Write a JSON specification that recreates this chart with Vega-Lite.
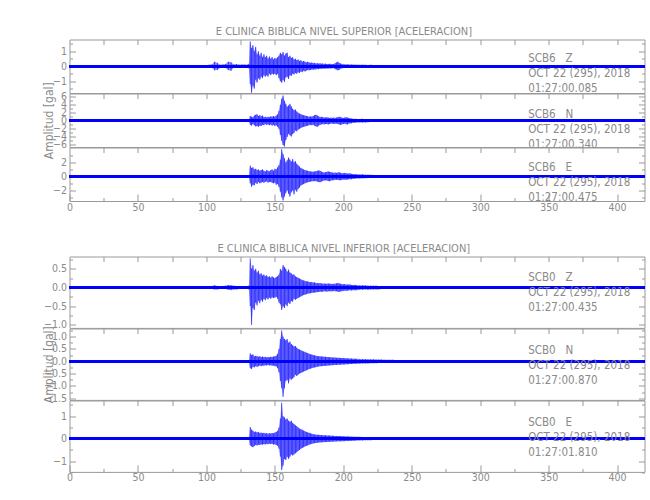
{
"$schema": "https://vega.github.io/schema/vega-lite/v6.json",
"padding": {"left": 41.5, "top": 25.5, "right": 5, "bottom": 5},
"datasets": {"w": [
{"t":0,"a1":0.06,"b1":-0.05,"a2":0.15,"b2":-0.14,"a3":0.12,"b3":-0.11,"a4":0.02,"b4":-0.02,"a5":0.03,"b5":-0.03,"a6":0.03,"b6":-0.03},
{"t":10,"a1":0.05,"b1":-0.06,"a2":0.14,"b2":-0.15,"a3":0.11,"b3":-0.12,"a4":0.02,"b4":-0.03,"a5":0.03,"b5":-0.03,"a6":0.03,"b6":-0.02},
{"t":20,"a1":0.07,"b1":-0.06,"a2":0.15,"b2":-0.13,"a3":0.12,"b3":-0.12,"a4":0.03,"b4":-0.02,"a5":0.03,"b5":-0.04,"a6":0.03,"b6":-0.03},
{"t":30,"a1":0.06,"b1":-0.07,"a2":0.13,"b2":-0.15,"a3":0.13,"b3":-0.11,"a4":0.02,"b4":-0.02,"a5":0.04,"b5":-0.03,"a6":0.02,"b6":-0.03},
{"t":40,"a1":0.06,"b1":-0.06,"a2":0.15,"b2":-0.15,"a3":0.11,"b3":-0.12,"a4":0.02,"b4":-0.03,"a5":0.03,"b5":-0.03,"a6":0.03,"b6":-0.03},
{"t":50,"a1":0.07,"b1":-0.06,"a2":0.14,"b2":-0.14,"a3":0.12,"b3":-0.13,"a4":0.03,"b4":-0.02,"a5":0.03,"b5":-0.03,"a6":0.03,"b6":-0.02},
{"t":60,"a1":0.06,"b1":-0.06,"a2":0.15,"b2":-0.14,"a3":0.12,"b3":-0.12,"a4":0.02,"b4":-0.02,"a5":0.03,"b5":-0.04,"a6":0.03,"b6":-0.03},
{"t":70,"a1":0.05,"b1":-0.06,"a2":0.14,"b2":-0.15,"a3":0.11,"b3":-0.11,"a4":0.02,"b4":-0.02,"a5":0.03,"b5":-0.03,"a6":0.02,"b6":-0.03},
{"t":80,"a1":0.06,"b1":-0.07,"a2":0.15,"b2":-0.15,"a3":0.12,"b3":-0.12,"a4":0.03,"b4":-0.03,"a5":0.04,"b5":-0.03,"a6":0.03,"b6":-0.03},
{"t":90,"a1":0.07,"b1":-0.06,"a2":0.14,"b2":-0.14,"a3":0.12,"b3":-0.12,"a4":0.02,"b4":-0.03,"a5":0.03,"b5":-0.03,"a6":0.03,"b6":-0.03},
{"t":100,"a1":0.07,"b1":-0.07,"a2":0.15,"b2":-0.15,"a3":0.12,"b3":-0.12,"a4":0.03,"b4":-0.03,"a5":0.03,"b5":-0.03,"a6":0.04,"b6":-0.04},
{"t":102,"a1":0.1,"b1":-0.09,"a2":0.14,"b2":-0.15,"a3":0.12,"b3":-0.13,"a4":0.03,"b4":-0.03,"a5":0.03,"b5":-0.04,"a6":0.04,"b6":-0.03},
{"t":104,"a1":0.12,"b1":-0.1,"a2":0.15,"b2":-0.14,"a3":0.13,"b3":-0.12,"a4":0.04,"b4":-0.04,"a5":0.04,"b5":-0.03,"a6":0.04,"b6":-0.04},
{"t":106,"a1":0.3,"b1":-0.28,"a2":0.16,"b2":-0.15,"a3":0.14,"b3":-0.13,"a4":0.06,"b4":-0.05,"a5":0.04,"b5":-0.04,"a6":0.05,"b6":-0.05},
{"t":108,"a1":0.22,"b1":-0.25,"a2":0.15,"b2":-0.16,"a3":0.13,"b3":-0.14,"a4":0.04,"b4":-0.05,"a5":0.04,"b5":-0.04,"a6":0.04,"b6":-0.05},
{"t":110,"a1":0.1,"b1":-0.12,"a2":0.15,"b2":-0.15,"a3":0.12,"b3":-0.12,"a4":0.03,"b4":-0.04,"a5":0.03,"b5":-0.04,"a6":0.04,"b6":-0.04},
{"t":112,"a1":0.12,"b1":-0.1,"a2":0.16,"b2":-0.15,"a3":0.13,"b3":-0.13,"a4":0.04,"b4":-0.04,"a5":0.04,"b5":-0.03,"a6":0.04,"b6":-0.04},
{"t":114,"a1":0.15,"b1":-0.13,"a2":0.15,"b2":-0.16,"a3":0.14,"b3":-0.13,"a4":0.05,"b4":-0.04,"a5":0.04,"b5":-0.04,"a6":0.05,"b6":-0.04},
{"t":116,"a1":0.3,"b1":-0.26,"a2":0.16,"b2":-0.16,"a3":0.14,"b3":-0.15,"a4":0.07,"b4":-0.06,"a5":0.04,"b5":-0.05,"a6":0.06,"b6":-0.05},
{"t":118,"a1":0.26,"b1":-0.3,"a2":0.17,"b2":-0.16,"a3":0.15,"b3":-0.14,"a4":0.06,"b4":-0.07,"a5":0.05,"b5":-0.04,"a6":0.05,"b6":-0.06},
{"t":120,"a1":0.12,"b1":-0.1,"a2":0.16,"b2":-0.17,"a3":0.14,"b3":-0.15,"a4":0.05,"b4":-0.05,"a5":0.04,"b5":-0.04,"a6":0.05,"b6":-0.05},
{"t":122,"a1":0.14,"b1":-0.12,"a2":0.16,"b2":-0.16,"a3":0.15,"b3":-0.14,"a4":0.04,"b4":-0.05,"a5":0.04,"b5":-0.04,"a6":0.04,"b6":-0.05},
{"t":124,"a1":0.1,"b1":-0.11,"a2":0.15,"b2":-0.16,"a3":0.14,"b3":-0.14,"a4":0.04,"b4":-0.04,"a5":0.04,"b5":-0.04,"a6":0.04,"b6":-0.04},
{"t":126,"a1":0.12,"b1":-0.1,"a2":0.16,"b2":-0.15,"a3":0.13,"b3":-0.14,"a4":0.03,"b4":-0.04,"a5":0.03,"b5":-0.04,"a6":0.04,"b6":-0.04},
{"t":128,"a1":0.11,"b1":-0.12,"a2":0.15,"b2":-0.16,"a3":0.14,"b3":-0.13,"a4":0.04,"b4":-0.04,"a5":0.04,"b5":-0.03,"a6":0.04,"b6":-0.04},
{"t":130,"a1":0.1,"b1":-0.1,"a2":0.15,"b2":-0.15,"a3":0.13,"b3":-0.12,"a4":0.04,"b4":-0.04,"a5":0.03,"b5":-0.03,"a6":0.03,"b6":-0.04},
{"t":131,"a1":0.15,"b1":-0.14,"a2":0.2,"b2":-0.18,"a3":0.15,"b3":-0.14,"a4":0.05,"b4":-0.05,"a5":0.04,"b5":-0.04,"a6":0.04,"b6":-0.04},
{"t":132,"a1":1.65,"b1":-1.2,"a2":1.2,"b2":-1.0,"a3":1.55,"b3":-1.0,"a4":0.78,"b4":-0.5,"a5":0.32,"b5":-0.28,"a6":0.52,"b6":-0.3},
{"t":133,"a1":1.2,"b1":-1.78,"a2":1.0,"b2":-1.2,"a3":1.2,"b3":-1.5,"a4":0.5,"b4":-1.0,"a5":0.25,"b5":-0.32,"a6":0.4,"b6":-0.35},
{"t":134,"a1":1.4,"b1":-1.3,"a2":0.9,"b2":-0.8,"a3":1.3,"b3":-1.2,"a4":0.6,"b4":-0.55,"a5":0.28,"b5":-0.22,"a6":0.35,"b6":-0.38},
{"t":135,"a1":1.0,"b1":-1.5,"a2":1.3,"b2":-1.1,"a3":1.0,"b3":-1.3,"a4":0.45,"b4":-0.6,"a5":0.2,"b5":-0.25,"a6":0.3,"b6":-0.33},
{"t":136,"a1":1.3,"b1":-0.9,"a2":1.5,"b2":-1.4,"a3":1.1,"b3":-0.9,"a4":0.5,"b4":-0.4,"a5":0.22,"b5":-0.2,"a6":0.32,"b6":-0.28},
{"t":137,"a1":0.8,"b1":-1.1,"a2":1.6,"b2":-1.3,"a3":0.9,"b3":-1.1,"a4":0.4,"b4":-0.48,"a5":0.2,"b5":-0.22,"a6":0.28,"b6":-0.3},
{"t":138,"a1":1.0,"b1":-0.8,"a2":1.2,"b2":-1.5,"a3":1.0,"b3":-0.8,"a4":0.45,"b4":-0.35,"a5":0.18,"b5":-0.2,"a6":0.3,"b6":-0.27},
{"t":139,"a1":0.7,"b1":-0.9,"a2":1.4,"b2":-1.2,"a3":0.8,"b3":-1.0,"a4":0.35,"b4":-0.42,"a5":0.2,"b5":-0.17,"a6":0.25,"b6":-0.28},
{"t":140,"a1":0.9,"b1":-0.7,"a2":1.1,"b2":-1.3,"a3":0.9,"b3":-0.9,"a4":0.38,"b4":-0.33,"a5":0.17,"b5":-0.2,"a6":0.27,"b6":-0.25},
{"t":141,"a1":0.6,"b1":-0.8,"a2":1.3,"b2":-1.0,"a3":1.0,"b3":-0.8,"a4":0.32,"b4":-0.38,"a5":0.19,"b5":-0.17,"a6":0.24,"b6":-0.27},
{"t":142,"a1":0.8,"b1":-0.6,"a2":0.9,"b2":-1.1,"a3":0.8,"b3":-0.9,"a4":0.35,"b4":-0.3,"a5":0.16,"b5":-0.18,"a6":0.26,"b6":-0.24},
{"t":143,"a1":0.6,"b1":-0.7,"a2":1.0,"b2":-0.8,"a3":0.7,"b3":-0.8,"a4":0.3,"b4":-0.34,"a5":0.18,"b5":-0.16,"a6":0.23,"b6":-0.26},
{"t":144,"a1":0.7,"b1":-0.6,"a2":0.8,"b2":-1.0,"a3":0.9,"b3":-0.7,"a4":0.33,"b4":-0.28,"a5":0.15,"b5":-0.17,"a6":0.25,"b6":-0.23},
{"t":145,"a1":0.5,"b1":-0.7,"a2":1.0,"b2":-0.9,"a3":0.8,"b3":-0.9,"a4":0.28,"b4":-0.32,"a5":0.17,"b5":-0.15,"a6":0.22,"b6":-0.25},
{"t":146,"a1":0.65,"b1":-0.5,"a2":0.9,"b2":-1.1,"a3":0.7,"b3":-0.8,"a4":0.3,"b4":-0.27,"a5":0.16,"b5":-0.17,"a6":0.24,"b6":-0.22},
{"t":147,"a1":0.5,"b1":-0.6,"a2":1.1,"b2":-0.9,"a3":0.9,"b3":-0.8,"a4":0.26,"b4":-0.3,"a5":0.18,"b5":-0.16,"a6":0.23,"b6":-0.24},
{"t":148,"a1":0.6,"b1":-0.5,"a2":1.0,"b2":-1.2,"a3":1.0,"b3":-0.9,"a4":0.3,"b4":-0.26,"a5":0.17,"b5":-0.18,"a6":0.25,"b6":-0.23},
{"t":149,"a1":0.45,"b1":-0.55,"a2":1.2,"b2":-1.0,"a3":0.8,"b3":-1.0,"a4":0.27,"b4":-0.28,"a5":0.19,"b5":-0.17,"a6":0.24,"b6":-0.26},
{"t":150,"a1":0.55,"b1":-0.5,"a2":1.0,"b2":-1.3,"a3":1.1,"b3":-0.9,"a4":0.25,"b4":-0.27,"a5":0.2,"b5":-0.2,"a6":0.27,"b6":-0.25},
{"t":151,"a1":0.5,"b1":-0.6,"a2":1.3,"b2":-1.1,"a3":1.0,"b3":-1.2,"a4":0.28,"b4":-0.25,"a5":0.22,"b5":-0.2,"a6":0.3,"b6":-0.28},
{"t":152,"a1":0.6,"b1":-0.5,"a2":1.6,"b2":-1.5,"a3":1.3,"b3":-1.1,"a4":0.3,"b4":-0.3,"a5":0.3,"b5":-0.28,"a6":0.35,"b6":-0.32},
{"t":153,"a1":0.7,"b1":-0.8,"a2":2.5,"b2":-2.0,"a3":1.6,"b3":-1.5,"a4":0.35,"b4":-0.4,"a5":0.5,"b5":-0.45,"a6":0.5,"b6":-0.45},
{"t":154,"a1":0.9,"b1":-1.0,"a2":4.0,"b2":-3.5,"a3":2.4,"b3":-2.2,"a4":0.5,"b4":-0.45,"a5":0.9,"b5":-0.8,"a6":0.9,"b6":-0.8},
{"t":155,"a1":0.8,"b1":-1.1,"a2":5.5,"b2":-5.0,"a3":3.9,"b3":-3.0,"a4":0.45,"b4":-0.6,"a5":1.25,"b5":-1.1,"a6":1.6,"b6":-1.4},
{"t":156,"a1":0.95,"b1":-0.9,"a2":6.3,"b2":-6.0,"a3":3.2,"b3":-3.45,"a4":0.6,"b4":-0.5,"a5":1.0,"b5":-1.45,"a6":1.0,"b6":-1.2},
{"t":157,"a1":0.7,"b1":-1.05,"a2":5.0,"b2":-6.4,"a3":2.6,"b3":-2.9,"a4":0.55,"b4":-0.55,"a5":0.9,"b5":-1.1,"a6":0.95,"b6":-0.9},
{"t":158,"a1":0.85,"b1":-0.75,"a2":4.2,"b2":-4.8,"a3":2.0,"b3":-2.4,"a4":0.5,"b4":-0.45,"a5":0.85,"b5":-0.8,"a6":0.85,"b6":-0.95},
{"t":159,"a1":0.9,"b1":-0.7,"a2":3.5,"b2":-4.0,"a3":2.3,"b3":-2.0,"a4":0.42,"b4":-0.5,"a5":0.9,"b5":-0.75,"a6":0.9,"b6":-0.8},
{"t":160,"a1":0.6,"b1":-0.85,"a2":3.8,"b2":-3.2,"a3":2.7,"b3":-2.5,"a4":0.48,"b4":-0.4,"a5":0.75,"b5":-0.9,"a6":0.8,"b6":-0.9},
{"t":161,"a1":0.7,"b1":-0.6,"a2":4.2,"b2":-3.6,"a3":2.4,"b3":-2.9,"a4":0.4,"b4":-0.44,"a5":0.8,"b5":-0.7,"a6":0.75,"b6":-0.8},
{"t":162,"a1":0.55,"b1":-0.65,"a2":3.6,"b2":-3.9,"a3":2.1,"b3":-2.3,"a4":0.38,"b4":-0.36,"a5":0.7,"b5":-0.75,"a6":0.8,"b6":-0.7},
{"t":163,"a1":0.6,"b1":-0.5,"a2":3.0,"b2":-3.3,"a3":2.5,"b3":-2.0,"a4":0.34,"b4":-0.38,"a5":0.65,"b5":-0.7,"a6":0.7,"b6":-0.75},
{"t":164,"a1":0.45,"b1":-0.55,"a2":2.6,"b2":-3.0,"a3":2.0,"b3":-2.6,"a4":0.35,"b4":-0.3,"a5":0.6,"b5":-0.65,"a6":0.65,"b6":-0.7},
{"t":165,"a1":0.5,"b1":-0.45,"a2":2.8,"b2":-2.4,"a3":2.2,"b3":-1.9,"a4":0.3,"b4":-0.33,"a5":0.62,"b5":-0.55,"a6":0.6,"b6":-0.65},
{"t":166,"a1":0.4,"b1":-0.5,"a2":2.3,"b2":-2.6,"a3":1.8,"b3":-2.2,"a4":0.28,"b4":-0.3,"a5":0.55,"b5":-0.6,"a6":0.55,"b6":-0.6},
{"t":167,"a1":0.45,"b1":-0.4,"a2":2.0,"b2":-2.2,"a3":1.6,"b3":-1.8,"a4":0.26,"b4":-0.28,"a5":0.5,"b5":-0.55,"a6":0.5,"b6":-0.55},
{"t":168,"a1":0.35,"b1":-0.45,"a2":1.8,"b2":-2.0,"a3":1.4,"b3":-1.6,"a4":0.24,"b4":-0.26,"a5":0.48,"b5":-0.5,"a6":0.45,"b6":-0.5},
{"t":169,"a1":0.4,"b1":-0.35,"a2":1.6,"b2":-1.8,"a3":1.2,"b3":-1.3,"a4":0.22,"b4":-0.24,"a5":0.45,"b5":-0.48,"a6":0.42,"b6":-0.45},
{"t":170,"a1":0.3,"b1":-0.4,"a2":1.5,"b2":-1.6,"a3":1.1,"b3":-1.2,"a4":0.2,"b4":-0.22,"a5":0.42,"b5":-0.45,"a6":0.4,"b6":-0.42},
{"t":171,"a1":0.35,"b1":-0.3,"a2":1.4,"b2":-1.5,"a3":1.0,"b3":-1.1,"a4":0.19,"b4":-0.2,"a5":0.4,"b5":-0.42,"a6":0.36,"b6":-0.38},
{"t":172,"a1":0.3,"b1":-0.35,"a2":1.3,"b2":-1.4,"a3":0.9,"b3":-1.0,"a4":0.18,"b4":-0.19,"a5":0.38,"b5":-0.4,"a6":0.33,"b6":-0.35},
{"t":173,"a1":0.25,"b1":-0.3,"a2":1.2,"b2":-1.3,"a3":0.85,"b3":-0.9,"a4":0.16,"b4":-0.18,"a5":0.35,"b5":-0.37,"a6":0.3,"b6":-0.32},
{"t":174,"a1":0.3,"b1":-0.25,"a2":1.1,"b2":-1.2,"a3":0.8,"b3":-0.85,"a4":0.17,"b4":-0.16,"a5":0.33,"b5":-0.35,"a6":0.28,"b6":-0.3},
{"t":175,"a1":0.25,"b1":-0.28,"a2":1.0,"b2":-1.1,"a3":0.75,"b3":-0.8,"a4":0.15,"b4":-0.16,"a5":0.3,"b5":-0.32,"a6":0.26,"b6":-0.27},
{"t":176,"a1":0.22,"b1":-0.25,"a2":1.1,"b2":-1.0,"a3":0.7,"b3":-0.75,"a4":0.14,"b4":-0.15,"a5":0.28,"b5":-0.3,"a6":0.24,"b6":-0.25},
{"t":177,"a1":0.25,"b1":-0.22,"a2":1.0,"b2":-1.1,"a3":0.7,"b3":-0.7,"a4":0.15,"b4":-0.14,"a5":0.27,"b5":-0.28,"a6":0.22,"b6":-0.23},
{"t":178,"a1":0.2,"b1":-0.24,"a2":1.2,"b2":-1.0,"a3":0.65,"b3":-0.7,"a4":0.13,"b4":-0.14,"a5":0.25,"b5":-0.26,"a6":0.2,"b6":-0.21},
{"t":179,"a1":0.22,"b1":-0.2,"a2":1.4,"b2":-1.2,"a3":0.7,"b3":-0.65,"a4":0.14,"b4":-0.13,"a5":0.24,"b5":-0.25,"a6":0.19,"b6":-0.2},
{"t":180,"a1":0.18,"b1":-0.22,"a2":1.5,"b2":-1.4,"a3":0.75,"b3":-0.7,"a4":0.12,"b4":-0.13,"a5":0.22,"b5":-0.24,"a6":0.18,"b6":-0.19},
{"t":181,"a1":0.2,"b1":-0.18,"a2":1.3,"b2":-1.5,"a3":0.8,"b3":-0.75,"a4":0.12,"b4":-0.12,"a5":0.21,"b5":-0.22,"a6":0.17,"b6":-0.18},
{"t":182,"a1":0.17,"b1":-0.2,"a2":1.1,"b2":-1.2,"a3":0.85,"b3":-0.8,"a4":0.11,"b4":-0.12,"a5":0.2,"b5":-0.21,"a6":0.17,"b6":-0.17},
{"t":183,"a1":0.2,"b1":-0.17,"a2":0.9,"b2":-1.0,"a3":0.8,"b3":-0.85,"a4":0.12,"b4":-0.11,"a5":0.2,"b5":-0.2,"a6":0.16,"b6":-0.17},
{"t":184,"a1":0.16,"b1":-0.18,"a2":1.0,"b2":-0.9,"a3":0.7,"b3":-0.75,"a4":0.11,"b4":-0.11,"a5":0.19,"b5":-0.2,"a6":0.16,"b6":-0.16},
{"t":185,"a1":0.18,"b1":-0.16,"a2":0.9,"b2":-0.8,"a3":0.6,"b3":-0.65,"a4":0.1,"b4":-0.11,"a5":0.19,"b5":-0.19,"a6":0.15,"b6":-0.16},
{"t":186,"a1":0.15,"b1":-0.17,"a2":0.8,"b2":-0.9,"a3":0.55,"b3":-0.6,"a4":0.11,"b4":-0.1,"a5":0.18,"b5":-0.19,"a6":0.15,"b6":-0.15},
{"t":187,"a1":0.17,"b1":-0.15,"a2":0.8,"b2":-0.8,"a3":0.6,"b3":-0.55,"a4":0.1,"b4":-0.1,"a5":0.18,"b5":-0.18,"a6":0.15,"b6":-0.15},
{"t":188,"a1":0.15,"b1":-0.16,"a2":0.9,"b2":-0.8,"a3":0.65,"b3":-0.6,"a4":0.1,"b4":-0.11,"a5":0.17,"b5":-0.18,"a6":0.14,"b6":-0.15},
{"t":189,"a1":0.14,"b1":-0.15,"a2":0.8,"b2":-0.9,"a3":0.7,"b3":-0.65,"a4":0.11,"b4":-0.1,"a5":0.17,"b5":-0.17,"a6":0.14,"b6":-0.14},
{"t":190,"a1":0.16,"b1":-0.14,"a2":0.7,"b2":-0.8,"a3":0.65,"b3":-0.7,"a4":0.1,"b4":-0.1,"a5":0.16,"b5":-0.17,"a6":0.14,"b6":-0.14},
{"t":191,"a1":0.14,"b1":-0.15,"a2":0.8,"b2":-0.7,"a3":0.6,"b3":-0.6,"a4":0.1,"b4":-0.1,"a5":0.16,"b5":-0.16,"a6":0.13,"b6":-0.14},
{"t":192,"a1":0.13,"b1":-0.14,"a2":0.7,"b2":-0.7,"a3":0.55,"b3":-0.55,"a4":0.09,"b4":-0.1,"a5":0.15,"b5":-0.16,"a6":0.13,"b6":-0.13},
{"t":193,"a1":0.15,"b1":-0.13,"a2":0.8,"b2":-0.8,"a3":0.5,"b3":-0.55,"a4":0.1,"b4":-0.09,"a5":0.15,"b5":-0.15,"a6":0.13,"b6":-0.13},
{"t":194,"a1":0.2,"b1":-0.2,"a2":0.7,"b2":-0.75,"a3":0.55,"b3":-0.5,"a4":0.1,"b4":-0.1,"a5":0.15,"b5":-0.15,"a6":0.12,"b6":-0.13},
{"t":195,"a1":0.25,"b1":-0.22,"a2":0.8,"b2":-0.7,"a3":0.5,"b3":-0.5,"a4":0.11,"b4":-0.1,"a5":0.14,"b5":-0.15,"a6":0.12,"b6":-0.12},
{"t":196,"a1":0.3,"b1":-0.28,"a2":0.9,"b2":-0.8,"a3":0.55,"b3":-0.5,"a4":0.12,"b4":-0.11,"a5":0.14,"b5":-0.14,"a6":0.12,"b6":-0.12},
{"t":197,"a1":0.22,"b1":-0.25,"a2":1.0,"b2":-0.9,"a3":0.6,"b3":-0.55,"a4":0.11,"b4":-0.12,"a5":0.14,"b5":-0.14,"a6":0.12,"b6":-0.12},
{"t":198,"a1":0.18,"b1":-0.16,"a2":0.9,"b2":-1.0,"a3":0.5,"b3":-0.55,"a4":0.1,"b4":-0.1,"a5":0.13,"b5":-0.14,"a6":0.11,"b6":-0.12},
{"t":199,"a1":0.15,"b1":-0.14,"a2":0.8,"b2":-0.9,"a3":0.45,"b3":-0.5,"a4":0.09,"b4":-0.1,"a5":0.13,"b5":-0.13,"a6":0.11,"b6":-0.11},
{"t":200,"a1":0.12,"b1":-0.13,"a2":0.7,"b2":-0.8,"a3":0.45,"b3":-0.45,"a4":0.09,"b4":-0.09,"a5":0.13,"b5":-0.13,"a6":0.11,"b6":-0.11},
{"t":201,"a1":0.12,"b1":-0.11,"a2":0.8,"b2":-0.7,"a3":0.5,"b3":-0.45,"a4":0.09,"b4":-0.08,"a5":0.12,"b5":-0.13,"a6":0.1,"b6":-0.11},
{"t":202,"a1":0.11,"b1":-0.12,"a2":0.9,"b2":-0.85,"a3":0.45,"b3":-0.5,"a4":0.08,"b4":-0.09,"a5":0.12,"b5":-0.12,"a6":0.1,"b6":-0.1},
{"t":203,"a1":0.12,"b1":-0.11,"a2":0.8,"b2":-0.9,"a3":0.4,"b3":-0.45,"a4":0.08,"b4":-0.08,"a5":0.12,"b5":-0.12,"a6":0.1,"b6":-0.1},
{"t":204,"a1":0.11,"b1":-0.11,"a2":0.7,"b2":-0.7,"a3":0.4,"b3":-0.4,"a4":0.08,"b4":-0.08,"a5":0.11,"b5":-0.12,"a6":0.1,"b6":-0.1},
{"t":205,"a1":0.1,"b1":-0.11,"a2":0.6,"b2":-0.65,"a3":0.45,"b3":-0.4,"a4":0.08,"b4":-0.07,"a5":0.11,"b5":-0.11,"a6":0.09,"b6":-0.1},
{"t":206,"a1":0.11,"b1":-0.1,"a2":0.55,"b2":-0.6,"a3":0.35,"b3":-0.4,"a4":0.07,"b4":-0.08,"a5":0.11,"b5":-0.11,"a6":0.09,"b6":-0.09},
{"t":207,"a1":0.1,"b1":-0.1,"a2":0.5,"b2":-0.5,"a3":0.35,"b3":-0.35,"a4":0.07,"b4":-0.07,"a5":0.1,"b5":-0.11,"a6":0.09,"b6":-0.09},
{"t":208,"a1":0.1,"b1":-0.1,"a2":0.45,"b2":-0.5,"a3":0.3,"b3":-0.35,"a4":0.07,"b4":-0.07,"a5":0.1,"b5":-0.1,"a6":0.08,"b6":-0.09},
{"t":209,"a1":0.09,"b1":-0.1,"a2":0.5,"b2":-0.45,"a3":0.32,"b3":-0.3,"a4":0.07,"b4":-0.07,"a5":0.1,"b5":-0.1,"a6":0.08,"b6":-0.08},
{"t":210,"a1":0.1,"b1":-0.09,"a2":0.4,"b2":-0.45,"a3":0.3,"b3":-0.3,"a4":0.06,"b4":-0.07,"a5":0.1,"b5":-0.1,"a6":0.08,"b6":-0.08},
{"t":212,"a1":0.09,"b1":-0.1,"a2":0.45,"b2":-0.4,"a3":0.28,"b3":-0.3,"a4":0.06,"b4":-0.06,"a5":0.09,"b5":-0.1,"a6":0.08,"b6":-0.08},
{"t":214,"a1":0.1,"b1":-0.09,"a2":0.5,"b2":-0.45,"a3":0.3,"b3":-0.28,"a4":0.06,"b4":-0.06,"a5":0.09,"b5":-0.09,"a6":0.07,"b6":-0.08},
{"t":216,"a1":0.09,"b1":-0.09,"a2":0.35,"b2":-0.4,"a3":0.25,"b3":-0.27,"a4":0.06,"b4":-0.05,"a5":0.09,"b5":-0.09,"a6":0.07,"b6":-0.07},
{"t":218,"a1":0.08,"b1":-0.09,"a2":0.3,"b2":-0.35,"a3":0.24,"b3":-0.25,"a4":0.05,"b4":-0.06,"a5":0.08,"b5":-0.09,"a6":0.07,"b6":-0.07},
{"t":220,"a1":0.09,"b1":-0.08,"a2":0.35,"b2":-0.3,"a3":0.22,"b3":-0.24,"a4":0.05,"b4":-0.05,"a5":0.08,"b5":-0.08,"a6":0.06,"b6":-0.07},
{"t":222,"a1":0.08,"b1":-0.08,"a2":0.3,"b2":-0.3,"a3":0.2,"b3":-0.22,"a4":0.05,"b4":-0.05,"a5":0.08,"b5":-0.08,"a6":0.06,"b6":-0.06},
{"t":224,"a1":0.08,"b1":-0.08,"a2":0.28,"b2":-0.3,"a3":0.2,"b3":-0.2,"a4":0.05,"b4":-0.05,"a5":0.07,"b5":-0.08,"a6":0.06,"b6":-0.06},
{"t":226,"a1":0.07,"b1":-0.08,"a2":0.25,"b2":-0.28,"a3":0.19,"b3":-0.2,"a4":0.04,"b4":-0.05,"a5":0.07,"b5":-0.07,"a6":0.06,"b6":-0.06},
{"t":228,"a1":0.08,"b1":-0.07,"a2":0.27,"b2":-0.25,"a3":0.18,"b3":-0.19,"a4":0.04,"b4":-0.04,"a5":0.07,"b5":-0.07,"a6":0.05,"b6":-0.06},
{"t":230,"a1":0.07,"b1":-0.07,"a2":0.25,"b2":-0.25,"a3":0.18,"b3":-0.18,"a4":0.04,"b4":-0.04,"a5":0.06,"b5":-0.07,"a6":0.05,"b6":-0.05},
{"t":232,"a1":0.07,"b1":-0.07,"a2":0.22,"b2":-0.24,"a3":0.17,"b3":-0.18,"a4":0.04,"b4":-0.04,"a5":0.06,"b5":-0.06,"a6":0.05,"b6":-0.05},
{"t":234,"a1":0.07,"b1":-0.07,"a2":0.22,"b2":-0.22,"a3":0.17,"b3":-0.17,"a4":0.04,"b4":-0.04,"a5":0.06,"b5":-0.06,"a6":0.05,"b6":-0.05},
{"t":236,"a1":0.06,"b1":-0.07,"a2":0.2,"b2":-0.22,"a3":0.16,"b3":-0.17,"a4":0.04,"b4":-0.04,"a5":0.06,"b5":-0.06,"a6":0.05,"b6":-0.05},
{"t":238,"a1":0.07,"b1":-0.06,"a2":0.2,"b2":-0.2,"a3":0.16,"b3":-0.16,"a4":0.04,"b4":-0.03,"a5":0.05,"b5":-0.06,"a6":0.04,"b6":-0.05},
{"t":240,"a1":0.06,"b1":-0.06,"a2":0.2,"b2":-0.2,"a3":0.15,"b3":-0.16,"a4":0.03,"b4":-0.04,"a5":0.05,"b5":-0.05,"a6":0.04,"b6":-0.04},
{"t":242,"a1":0.06,"b1":-0.06,"a2":0.18,"b2":-0.2,"a3":0.15,"b3":-0.15,"a4":0.03,"b4":-0.03,"a5":0.05,"b5":-0.05,"a6":0.04,"b6":-0.04},
{"t":244,"a1":0.06,"b1":-0.06,"a2":0.18,"b2":-0.18,"a3":0.14,"b3":-0.15,"a4":0.03,"b4":-0.03,"a5":0.05,"b5":-0.05,"a6":0.04,"b6":-0.04},
{"t":246,"a1":0.06,"b1":-0.06,"a2":0.17,"b2":-0.18,"a3":0.14,"b3":-0.14,"a4":0.03,"b4":-0.03,"a5":0.04,"b5":-0.05,"a6":0.04,"b6":-0.04},
{"t":248,"a1":0.06,"b1":-0.05,"a2":0.17,"b2":-0.17,"a3":0.13,"b3":-0.14,"a4":0.03,"b4":-0.03,"a5":0.04,"b5":-0.04,"a6":0.04,"b6":-0.04},
{"t":250,"a1":0.05,"b1":-0.06,"a2":0.16,"b2":-0.17,"a3":0.13,"b3":-0.13,"a4":0.03,"b4":-0.03,"a5":0.04,"b5":-0.04,"a6":0.04,"b6":-0.04},
{"t":260,"a1":0.06,"b1":-0.06,"a2":0.16,"b2":-0.16,"a3":0.13,"b3":-0.13,"a4":0.03,"b4":-0.03,"a5":0.04,"b5":-0.04,"a6":0.04,"b6":-0.04},
{"t":270,"a1":0.07,"b1":-0.06,"a2":0.15,"b2":-0.16,"a3":0.12,"b3":-0.13,"a4":0.03,"b4":-0.03,"a5":0.04,"b5":-0.04,"a6":0.04,"b6":-0.03},
{"t":280,"a1":0.06,"b1":-0.07,"a2":0.16,"b2":-0.15,"a3":0.13,"b3":-0.12,"a4":0.03,"b4":-0.03,"a5":0.04,"b5":-0.04,"a6":0.03,"b6":-0.04},
{"t":290,"a1":0.06,"b1":-0.06,"a2":0.15,"b2":-0.15,"a3":0.12,"b3":-0.12,"a4":0.03,"b4":-0.03,"a5":0.04,"b5":-0.03,"a6":0.04,"b6":-0.04},
{"t":300,"a1":0.07,"b1":-0.07,"a2":0.16,"b2":-0.15,"a3":0.13,"b3":-0.13,"a4":0.03,"b4":-0.03,"a5":0.03,"b5":-0.04,"a6":0.04,"b6":-0.04},
{"t":310,"a1":0.06,"b1":-0.06,"a2":0.15,"b2":-0.16,"a3":0.12,"b3":-0.12,"a4":0.03,"b4":-0.03,"a5":0.04,"b5":-0.04,"a6":0.03,"b6":-0.03},
{"t":320,"a1":0.06,"b1":-0.07,"a2":0.15,"b2":-0.15,"a3":0.12,"b3":-0.13,"a4":0.03,"b4":-0.03,"a5":0.04,"b5":-0.04,"a6":0.04,"b6":-0.04},
{"t":330,"a1":0.07,"b1":-0.06,"a2":0.16,"b2":-0.16,"a3":0.13,"b3":-0.12,"a4":0.03,"b4":-0.02,"a5":0.04,"b5":-0.04,"a6":0.04,"b6":-0.04},
{"t":340,"a1":0.06,"b1":-0.06,"a2":0.15,"b2":-0.15,"a3":0.12,"b3":-0.12,"a4":0.03,"b4":-0.03,"a5":0.04,"b5":-0.04,"a6":0.04,"b6":-0.03},
{"t":350,"a1":0.08,"b1":-0.07,"a2":0.15,"b2":-0.16,"a3":0.13,"b3":-0.13,"a4":0.03,"b4":-0.03,"a5":0.04,"b5":-0.03,"a6":0.04,"b6":-0.04},
{"t":360,"a1":0.06,"b1":-0.06,"a2":0.16,"b2":-0.15,"a3":0.12,"b3":-0.12,"a4":0.03,"b4":-0.03,"a5":0.04,"b5":-0.04,"a6":0.03,"b6":-0.04},
{"t":370,"a1":0.07,"b1":-0.07,"a2":0.15,"b2":-0.15,"a3":0.12,"b3":-0.13,"a4":0.03,"b4":-0.03,"a5":0.03,"b5":-0.04,"a6":0.04,"b6":-0.04},
{"t":380,"a1":0.06,"b1":-0.06,"a2":0.15,"b2":-0.15,"a3":0.13,"b3":-0.12,"a4":0.03,"b4":-0.03,"a5":0.04,"b5":-0.04,"a6":0.04,"b6":-0.04},
{"t":390,"a1":0.07,"b1":-0.06,"a2":0.16,"b2":-0.16,"a3":0.12,"b3":-0.12,"a4":0.02,"b4":-0.03,"a5":0.04,"b5":-0.04,"a6":0.04,"b6":-0.03},
{"t":400,"a1":0.06,"b1":-0.07,"a2":0.15,"b2":-0.15,"a3":0.12,"b3":-0.12,"a4":0.03,"b4":-0.03,"a5":0.04,"b5":-0.04,"a6":0.03,"b6":-0.04},
{"t":410,"a1":0.06,"b1":-0.06,"a2":0.15,"b2":-0.16,"a3":0.13,"b3":-0.13,"a4":0.03,"b4":-0.03,"a5":0.04,"b5":-0.04,"a6":0.04,"b6":-0.04},
{"t":420,"a1":0.07,"b1":-0.06,"a2":0.16,"b2":-0.15,"a3":0.12,"b3":-0.12,"a4":0.03,"b4":-0.03,"a5":0.04,"b5":-0.04,"a6":0.04,"b6":-0.04}
]},
"spacing": 29,
"vconcat": [
{
"title": {"text": "E CLINICA BIBLICA NIVEL SUPERIOR [ACELERACION]", "anchor": "middle", "offset": -7, "baseline": "alphabetic"},
"spacing": 0,
"bounds": "flush",
"vconcat": [
{"width": 575, "height": 53.5, "data": {"name": "w"},
"resolve": {"axis": {"x": "independent", "y": "independent"}},
"layer": [
{"mark": {"type": "area", "color": "#3a3aff", "opacity": 0.55},
"encoding": {
"x": {"field": "t", "type": "quantitative", "scale": {"domain": [0, 420], "nice": false, "zero": false}, "axis": {"orient": "top", "values": [25,50,75,100,125,150,175,200,225,250,275,300,325,350,375,400], "labels": false, "tickSize": 5, "offset": -5, "title": null}},
"y": {"field": "a1", "type": "quantitative", "scale": {"domain": [-1.79, 1.78], "nice": false, "zero": false}, "axis": {"orient": "left", "values": [-1,0,1], "tickSize": 6, "offset": -6, "labelPadding": 3, "title": null}},
"y2": {"field": "b1"}}},
{"mark": {"type": "rule", "color": "#0000ff", "strokeWidth": 0.9, "opacity": 0.75},
"encoding": {
"x": {"field": "t", "type": "quantitative", "scale": {"domain": [0, 420], "nice": false, "zero": false}, "axis": null},
"y": {"field": "a1", "type": "quantitative", "scale": {"domain": [-1.79, 1.78], "nice": false, "zero": false}, "axis": {"orient": "left", "values": [-1.5,-0.5,0.5,1.5], "labels": false, "tickSize": 3, "offset": -3, "title": null}},
"y2": {"field": "b1"}}},
{"mark": {"type": "rule", "color": "#0000ff", "strokeWidth": 2.6, "opacity": 0.75},
"encoding": {
"x": {"datum": 0, "type": "quantitative", "scale": {"domain": [0, 420], "nice": false, "zero": false}, "axis": null},
"x2": {"datum": 420},
"y": {"datum": 0, "type": "quantitative", "scale": {"domain": [-1.79, 1.78], "nice": false, "zero": false}, "axis": {"orient": "right", "values": [-1,0,1], "labels": false, "tickSize": 6, "offset": -6, "title": null}}}},
{"data": {"values": [{"l": "SCB6\u00a0\u00a0\u00a0Z\nOCT 22 (295), 2018\n01:27:00.085"}]},
"mark": {"type": "text", "align": "left", "baseline": "top", "lineBreak": "\n", "lineHeight": 15, "font": "DejaVu Sans Condensed, Liberation Sans Narrow, sans-serif", "fontSize": 11.5, "color": "#8a8a8a"},
"encoding": {
"x": {"datum": 335, "type": "quantitative", "scale": {"domain": [0, 420], "nice": false, "zero": false}, "axis": null},
"y": {"datum": 0.85, "type": "quantitative", "scale": {"domain": [-1.79, 1.78], "nice": false, "zero": false}, "axis": {"orient": "right", "values": [-1.5,-0.5,0.5,1.5], "labels": false, "tickSize": 3, "offset": -3, "title": null}},
"text": {"field": "l"}}}
]},
{"width": 575, "height": 53.5, "data": {"name": "w"},
"resolve": {"axis": {"x": "independent", "y": "independent"}},
"layer": [
{"mark": {"type": "area", "color": "#3a3aff", "opacity": 0.55},
"encoding": {
"x": {"field": "t", "type": "quantitative", "scale": {"domain": [0, 420], "nice": false, "zero": false}, "axis": {"orient": "top", "values": [25,50,75,100,125,150,175,200,225,250,275,300,325,350,375,400], "labels": false, "tickSize": 5, "offset": -5, "title": null}},
"y": {"field": "a2", "type": "quantitative", "scale": {"domain": [-6.5, 6.77], "nice": false, "zero": false}, "axis": {"orient": "left", "values": [-6,-4,-2,0,2,4,6], "tickSize": 6, "offset": -6, "labelPadding": 3, "title": "Amplitud [gal]", "titleX": -20.5, "titleBaseline": "bottom", "titleAngle": 270}},
"y2": {"field": "b2"}}},
{"mark": {"type": "rule", "color": "#0000ff", "strokeWidth": 0.9, "opacity": 0.75},
"encoding": {
"x": {"field": "t", "type": "quantitative", "scale": {"domain": [0, 420], "nice": false, "zero": false}, "axis": null},
"y": {"field": "a2", "type": "quantitative", "scale": {"domain": [-6.5, 6.77], "nice": false, "zero": false}, "axis": {"orient": "left", "values": [-5,-3,-1,1,3,5], "labels": false, "tickSize": 3, "offset": -3, "title": null}},
"y2": {"field": "b2"}}},
{"mark": {"type": "rule", "color": "#0000ff", "strokeWidth": 2.2, "opacity": 0.75},
"encoding": {
"x": {"datum": 0, "type": "quantitative", "scale": {"domain": [0, 420], "nice": false, "zero": false}, "axis": null},
"x2": {"datum": 420},
"y": {"datum": 0, "type": "quantitative", "scale": {"domain": [-6.5, 6.77], "nice": false, "zero": false}, "axis": {"orient": "right", "values": [-6,-4,-2,0,2,4,6], "labels": false, "tickSize": 6, "offset": -6, "title": null}}}},
{"data": {"values": [{"l": "SCB6\u00a0\u00a0\u00a0N\nOCT 22 (295), 2018\n01:27:00.340"}]},
"mark": {"type": "text", "align": "left", "baseline": "top", "lineBreak": "\n", "lineHeight": 15, "font": "DejaVu Sans Condensed, Liberation Sans Narrow, sans-serif", "fontSize": 11.5, "color": "#8a8a8a"},
"encoding": {
"x": {"datum": 335, "type": "quantitative", "scale": {"domain": [0, 420], "nice": false, "zero": false}, "axis": null},
"y": {"datum": 2.93, "type": "quantitative", "scale": {"domain": [-6.5, 6.77], "nice": false, "zero": false}, "axis": {"orient": "right", "values": [-5,-3,-1,1,3,5], "labels": false, "tickSize": 3, "offset": -3, "title": null}},
"text": {"field": "l"}}}
]},
{"width": 575, "height": 53.5, "data": {"name": "w"},
"resolve": {"axis": {"x": "independent", "y": "independent"}},
"layer": [
{"mark": {"type": "area", "color": "#3a3aff", "opacity": 0.55},
"encoding": {
"x": {"field": "t", "type": "quantitative", "scale": {"domain": [0, 420], "nice": false, "zero": false}, "axis": {"orient": "top", "values": [25,50,75,100,125,150,175,200,225,250,275,300,325,350,375,400], "labels": false, "tickSize": 5, "offset": -5, "title": null}},
"y": {"field": "a3", "type": "quantitative", "scale": {"domain": [-3.53, 4.14], "nice": false, "zero": false}, "axis": {"orient": "left", "values": [-2,0,2], "tickSize": 6, "offset": -6, "labelPadding": 3, "title": null}},
"y2": {"field": "b3"}}},
{"mark": {"type": "rule", "color": "#0000ff", "strokeWidth": 0.9, "opacity": 0.75},
"encoding": {
"x": {"field": "t", "type": "quantitative", "scale": {"domain": [0, 420], "nice": false, "zero": false}, "axis": {"orient": "bottom", "values": [0,50,100,150,200,250,300,350,400], "tickSize": 7, "offset": -7, "labelPadding": 1, "title": null}},
"y": {"field": "a3", "type": "quantitative", "scale": {"domain": [-3.53, 4.14], "nice": false, "zero": false}, "axis": {"orient": "left", "values": [-3,-1,1,3], "labels": false, "tickSize": 3, "offset": -3, "title": null}},
"y2": {"field": "b3"}}},
{"mark": {"type": "rule", "color": "#0000ff", "strokeWidth": 2.2, "opacity": 0.75},
"encoding": {
"x": {"datum": 0, "type": "quantitative", "scale": {"domain": [0, 420], "nice": false, "zero": false}, "axis": {"orient": "bottom", "values": [25,75,125,175,225,275,325,375], "labels": false, "tickSize": 3.5, "offset": -3.5, "title": null}},
"x2": {"datum": 420},
"y": {"datum": 0, "type": "quantitative", "scale": {"domain": [-3.53, 4.14], "nice": false, "zero": false}, "axis": {"orient": "right", "values": [-2,0,2], "labels": false, "tickSize": 6, "offset": -6, "title": null}}}},
{"data": {"values": [{"l": "SCB6\u00a0\u00a0\u00a0E\nOCT 22 (295), 2018\n01:27:00.475"}]},
"mark": {"type": "text", "align": "left", "baseline": "top", "lineBreak": "\n", "lineHeight": 15, "font": "DejaVu Sans Condensed, Liberation Sans Narrow, sans-serif", "fontSize": 11.5, "color": "#8a8a8a"},
"encoding": {
"x": {"datum": 335, "type": "quantitative", "scale": {"domain": [0, 420], "nice": false, "zero": false}, "axis": null},
"y": {"datum": 2.0, "type": "quantitative", "scale": {"domain": [-3.53, 4.14], "nice": false, "zero": false}, "axis": {"orient": "right", "values": [-3,-1,1,3], "labels": false, "tickSize": 3, "offset": -3, "title": null}},
"text": {"field": "l"}}}
]}
]
},
{
"title": {"text": "E CLINICA BIBLICA NIVEL INFERIOR [ACELERACION]", "anchor": "middle", "offset": -7, "baseline": "alphabetic"},
"spacing": 0,
"bounds": "flush",
"vconcat": [
{"width": 575, "height": 71.4, "data": {"name": "w"},
"resolve": {"axis": {"x": "independent", "y": "independent"}},
"layer": [
{"mark": {"type": "area", "color": "#3a3aff", "opacity": 0.55},
"encoding": {
"x": {"field": "t", "type": "quantitative", "scale": {"domain": [0, 420], "nice": false, "zero": false}, "axis": {"orient": "top", "values": [25,50,75,100,125,150,175,200,225,250,275,300,325,350,375,400], "labels": false, "tickSize": 5, "offset": -5, "title": null}},
"y": {"field": "a4", "type": "quantitative", "scale": {"domain": [-1.08, 0.83], "nice": false, "zero": false}, "axis": {"orient": "left", "values": [-1,-0.5,0,0.5], "format": ".1f", "tickSize": 6, "offset": -6, "labelPadding": 3, "title": null}},
"y2": {"field": "b4"}}},
{"mark": {"type": "rule", "color": "#0000ff", "strokeWidth": 0.9, "opacity": 0.75},
"encoding": {
"x": {"field": "t", "type": "quantitative", "scale": {"domain": [0, 420], "nice": false, "zero": false}, "axis": null},
"y": {"field": "a4", "type": "quantitative", "scale": {"domain": [-1.08, 0.83], "nice": false, "zero": false}, "axis": {"orient": "left", "values": [-0.75,-0.25,0.25,0.75], "labels": false, "tickSize": 3, "offset": -3, "title": null}},
"y2": {"field": "b4"}}},
{"mark": {"type": "rule", "color": "#0000ff", "strokeWidth": 2.2, "opacity": 0.75},
"encoding": {
"x": {"datum": 0, "type": "quantitative", "scale": {"domain": [0, 420], "nice": false, "zero": false}, "axis": null},
"x2": {"datum": 420},
"y": {"datum": 0, "type": "quantitative", "scale": {"domain": [-1.08, 0.83], "nice": false, "zero": false}, "axis": {"orient": "right", "values": [-1,-0.5,0,0.5], "labels": false, "tickSize": 6, "offset": -6, "title": null}}}},
{"data": {"values": [{"l": "SCB0\u00a0\u00a0\u00a0Z\nOCT 22 (295), 2018\n01:27:00.435"}]},
"mark": {"type": "text", "align": "left", "baseline": "top", "lineBreak": "\n", "lineHeight": 15, "font": "DejaVu Sans Condensed, Liberation Sans Narrow, sans-serif", "fontSize": 11.5, "color": "#8a8a8a"},
"encoding": {
"x": {"datum": 335, "type": "quantitative", "scale": {"domain": [0, 420], "nice": false, "zero": false}, "axis": null},
"y": {"datum": 0.42, "type": "quantitative", "scale": {"domain": [-1.08, 0.83], "nice": false, "zero": false}, "axis": {"orient": "right", "values": [-0.75,-0.25,0.25,0.75], "labels": false, "tickSize": 3, "offset": -3, "title": null}},
"text": {"field": "l"}}}
]},
{"width": 575, "height": 71.4, "data": {"name": "w"},
"resolve": {"axis": {"x": "independent", "y": "independent"}},
"layer": [
{"mark": {"type": "area", "color": "#3a3aff", "opacity": 0.55},
"encoding": {
"x": {"field": "t", "type": "quantitative", "scale": {"domain": [0, 420], "nice": false, "zero": false}, "axis": {"orient": "top", "values": [25,50,75,100,125,150,175,200,225,250,275,300,325,350,375,400], "labels": false, "tickSize": 5, "offset": -5, "title": null}},
"y": {"field": "a5", "type": "quantitative", "scale": {"domain": [-1.57, 1.33], "nice": false, "zero": false}, "axis": {"orient": "left", "values": [-1.5,-1,-0.5,0,0.5,1], "format": ".1f", "tickSize": 6, "offset": -6, "labelPadding": 3, "title": "Amplitud [gal]", "titleX": -20.5, "titleBaseline": "bottom", "titleAngle": 270}},
"y2": {"field": "b5"}}},
{"mark": {"type": "rule", "color": "#0000ff", "strokeWidth": 0.9, "opacity": 0.75},
"encoding": {
"x": {"field": "t", "type": "quantitative", "scale": {"domain": [0, 420], "nice": false, "zero": false}, "axis": null},
"y": {"field": "a5", "type": "quantitative", "scale": {"domain": [-1.57, 1.33], "nice": false, "zero": false}, "axis": {"orient": "left", "values": [-1.25,-0.75,-0.25,0.25,0.75,1.25], "labels": false, "tickSize": 3, "offset": -3, "title": null}},
"y2": {"field": "b5"}}},
{"mark": {"type": "rule", "color": "#0000ff", "strokeWidth": 2.2, "opacity": 0.75},
"encoding": {
"x": {"datum": 0, "type": "quantitative", "scale": {"domain": [0, 420], "nice": false, "zero": false}, "axis": null},
"x2": {"datum": 420},
"y": {"datum": 0, "type": "quantitative", "scale": {"domain": [-1.57, 1.33], "nice": false, "zero": false}, "axis": {"orient": "right", "values": [-1.5,-1,-0.5,0,0.5,1], "labels": false, "tickSize": 6, "offset": -6, "title": null}}}},
{"data": {"values": [{"l": "SCB0\u00a0\u00a0\u00a0N\nOCT 22 (295), 2018\n01:27:00.870"}]},
"mark": {"type": "text", "align": "left", "baseline": "top", "lineBreak": "\n", "lineHeight": 15, "font": "DejaVu Sans Condensed, Liberation Sans Narrow, sans-serif", "fontSize": 11.5, "color": "#8a8a8a"},
"encoding": {
"x": {"datum": 335, "type": "quantitative", "scale": {"domain": [0, 420], "nice": false, "zero": false}, "axis": null},
"y": {"datum": 0.68, "type": "quantitative", "scale": {"domain": [-1.57, 1.33], "nice": false, "zero": false}, "axis": {"orient": "right", "values": [-1.25,-0.75,-0.25,0.25,0.75,1.25], "labels": false, "tickSize": 3, "offset": -3, "title": null}},
"text": {"field": "l"}}}
]},
{"width": 575, "height": 71.4, "data": {"name": "w"},
"resolve": {"axis": {"x": "independent", "y": "independent"}},
"layer": [
{"mark": {"type": "area", "color": "#3a3aff", "opacity": 0.55},
"encoding": {
"x": {"field": "t", "type": "quantitative", "scale": {"domain": [0, 420], "nice": false, "zero": false}, "axis": {"orient": "top", "values": [25,50,75,100,125,150,175,200,225,250,275,300,325,350,375,400], "labels": false, "tickSize": 5, "offset": -5, "title": null}},
"y": {"field": "a6", "type": "quantitative", "scale": {"domain": [-1.48, 1.7], "nice": false, "zero": false}, "axis": {"orient": "left", "values": [-1,0,1], "tickSize": 6, "offset": -6, "labelPadding": 3, "title": null}},
"y2": {"field": "b6"}}},
{"mark": {"type": "rule", "color": "#0000ff", "strokeWidth": 0.9, "opacity": 0.75},
"encoding": {
"x": {"field": "t", "type": "quantitative", "scale": {"domain": [0, 420], "nice": false, "zero": false}, "axis": {"orient": "bottom", "values": [0,50,100,150,200,250,300,350,400], "tickSize": 7, "offset": -7, "labelPadding": 1, "title": null}},
"y": {"field": "a6", "type": "quantitative", "scale": {"domain": [-1.48, 1.7], "nice": false, "zero": false}, "axis": {"orient": "left", "values": [-1.5,-0.5,0.5,1.5], "labels": false, "tickSize": 3, "offset": -3, "title": null}},
"y2": {"field": "b6"}}},
{"mark": {"type": "rule", "color": "#0000ff", "strokeWidth": 2.2, "opacity": 0.75},
"encoding": {
"x": {"datum": 0, "type": "quantitative", "scale": {"domain": [0, 420], "nice": false, "zero": false}, "axis": {"orient": "bottom", "values": [25,75,125,175,225,275,325,375], "labels": false, "tickSize": 3.5, "offset": -3.5, "title": null}},
"x2": {"datum": 420},
"y": {"datum": 0, "type": "quantitative", "scale": {"domain": [-1.48, 1.7], "nice": false, "zero": false}, "axis": {"orient": "right", "values": [-1,0,1], "labels": false, "tickSize": 6, "offset": -6, "title": null}}}},
{"data": {"values": [{"l": "SCB0\u00a0\u00a0\u00a0E\nOCT 22 (295), 2018\n01:27:01.810"}]},
"mark": {"type": "text", "align": "left", "baseline": "top", "lineBreak": "\n", "lineHeight": 15, "font": "DejaVu Sans Condensed, Liberation Sans Narrow, sans-serif", "fontSize": 11.5, "color": "#8a8a8a"},
"encoding": {
"x": {"datum": 335, "type": "quantitative", "scale": {"domain": [0, 420], "nice": false, "zero": false}, "axis": null},
"y": {"datum": 0.96, "type": "quantitative", "scale": {"domain": [-1.48, 1.7], "nice": false, "zero": false}, "axis": {"orient": "right", "values": [-1.5,-0.5,0.5,1.5], "labels": false, "tickSize": 3, "offset": -3, "title": null}},
"text": {"field": "l"}}}
]}
]
}
],
"config": {
"view": {"stroke": "#999999", "strokeWidth": 1},
"axis": {"domain": false, "grid": false, "minExtent": 0, "tickColor": "#999999", "tickWidth": 1, "labelColor": "#8a8a8a", "labelFont": "DejaVu Sans Condensed, Liberation Sans Narrow, sans-serif", "labelFontSize": 10.5, "titleFont": "DejaVu Sans Condensed, Liberation Sans Narrow, sans-serif", "titleFontSize": 12, "titleFontWeight": "normal", "titleColor": "#8a8a8a", "labelOverlap": false, "labelFlush": false, "labelBound": false},
"title": {"font": "DejaVu Sans Condensed, Liberation Sans Narrow, sans-serif", "fontSize": 11, "fontWeight": "normal", "color": "#8a8a8a"}
}
}
